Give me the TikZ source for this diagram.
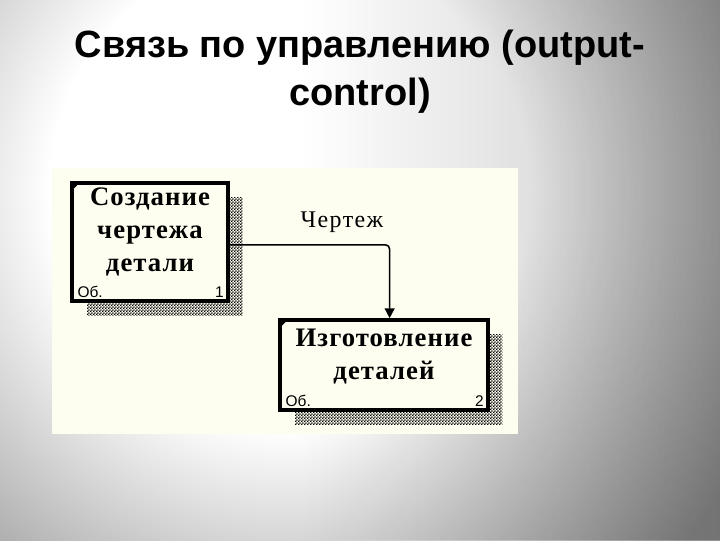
\documentclass[tikz,border=0pt]{standalone}
\usepackage{fontspec}
\setmainfont{Liberation Serif}
\newfontfamily\titlefont{Liberation Sans}
\newfontfamily\boxfont[LetterSpace=4]{Liberation Serif}
\newfontfamily\labelfont[LetterSpace=6]{Liberation Serif}
\usetikzlibrary{arrows.meta,shadows,patterns,fadings}

\definecolor{panelcream}{RGB}{253,253,240}
\pgfdeclareradialshading{slideshade}{\pgfpoint{0bp}{0bp}}{color(0bp)=(white); color(10bp)=(white); color(22bp)=(black!42); color(50bp)=(black!42)}
\tikzfading[name=darkright, left color=transparent!100, right color=transparent!0]
\pgfdeclarepatternformonly{finecheck}{\pgfpointorigin}{\pgfqpoint{2pt}{2pt}}{\pgfqpoint{2pt}{2pt}}{%
  \pgfpathrectangle{\pgfpointorigin}{\pgfqpoint{1pt}{1pt}}%
  \pgfpathrectangle{\pgfqpoint{1pt}{1pt}}{\pgfqpoint{1pt}{1pt}}%
  \pgfusepath{fill}}

\tikzset{
  funcbox/.style={draw, line width=2.8pt, fill=panelcream, rectangle, inner sep=0pt,
    general shadow={shadow xshift=10.5pt, shadow yshift=-10.5pt, pattern=finecheck, pattern color=black}},
  boxtext/.style={align=center, font=\boxfont\bfseries\fontsize{19}{23.5}\selectfont},
  numtext/.style={font=\titlefont\fontsize{11}{12}\selectfont, inner sep=0pt},
  flowlabel/.style={font=\labelfont\fontsize{17}{19}\selectfont},
  flow/.style={line width=1.1pt, rounded corners=3pt, -{Triangle[width=7pt,length=7pt]}},
}

\begin{document}
\begin{tikzpicture}[x=0.025cm, y=-0.025cm]
\useasboundingbox (0,0) rectangle (720,540);
\begin{scope}
  \clip (0,0) rectangle (720,540);
  \shade[shading=slideshade] (290,190) circle[radius=15cm];
  \fill[black, opacity=0.22, path fading=darkright] (300,0) rectangle (720,540);
\end{scope}

% title
\node[font=\titlefont\bfseries\fontsize{27}{34}\selectfont, align=center, anchor=base] (title) at (360,105)
  {Связь по управлению (output-\\control)};

% diagram panel
\fill[panelcream] (52,168) rectangle (518,434);

% function boxes
\node[funcbox, minimum width=110.6pt, minimum height=83.7pt] (create) at (150,242) {};
\node[funcbox, minimum width=147.4pt, minimum height=63.8pt] (make) at (384,365) {};

\node[boxtext] (createtxt) at (150,232) {Создание\\чертежа\\детали};
\node[boxtext] (maketxt) at (384,357) {Изготовление\\деталей};

\node[numtext, anchor=base west] (createref) at ([shift={(5pt,4pt)}]create.south west) {Об.};
\node[numtext, anchor=base east] (createnum) at ([shift={(-4pt,4pt)}]create.south east) {1};
\node[numtext, anchor=base west] (makeref) at ([shift={(5pt,4pt)}]make.south west) {Об.};
\node[numtext, anchor=base east] (makenum) at ([shift={(-4pt,4pt)}]make.south east) {2};

% corner marks
\fill ([shift={(1.4pt,-1.4pt)}]create.north west) -- ++(5pt,0) -- ++(-5pt,-5pt) -- cycle;
\fill ([shift={(1.4pt,-1.4pt)}]make.north west) -- ++(5pt,0) -- ++(-5pt,-5pt) -- cycle;

% control arrow
\draw[flow] ([yshift=-2pt]create.east) -| ([xshift=4pt]make.north);
\node[flowlabel] (drawing) at (342,222) {Чертеж};
\end{tikzpicture}
\end{document}
